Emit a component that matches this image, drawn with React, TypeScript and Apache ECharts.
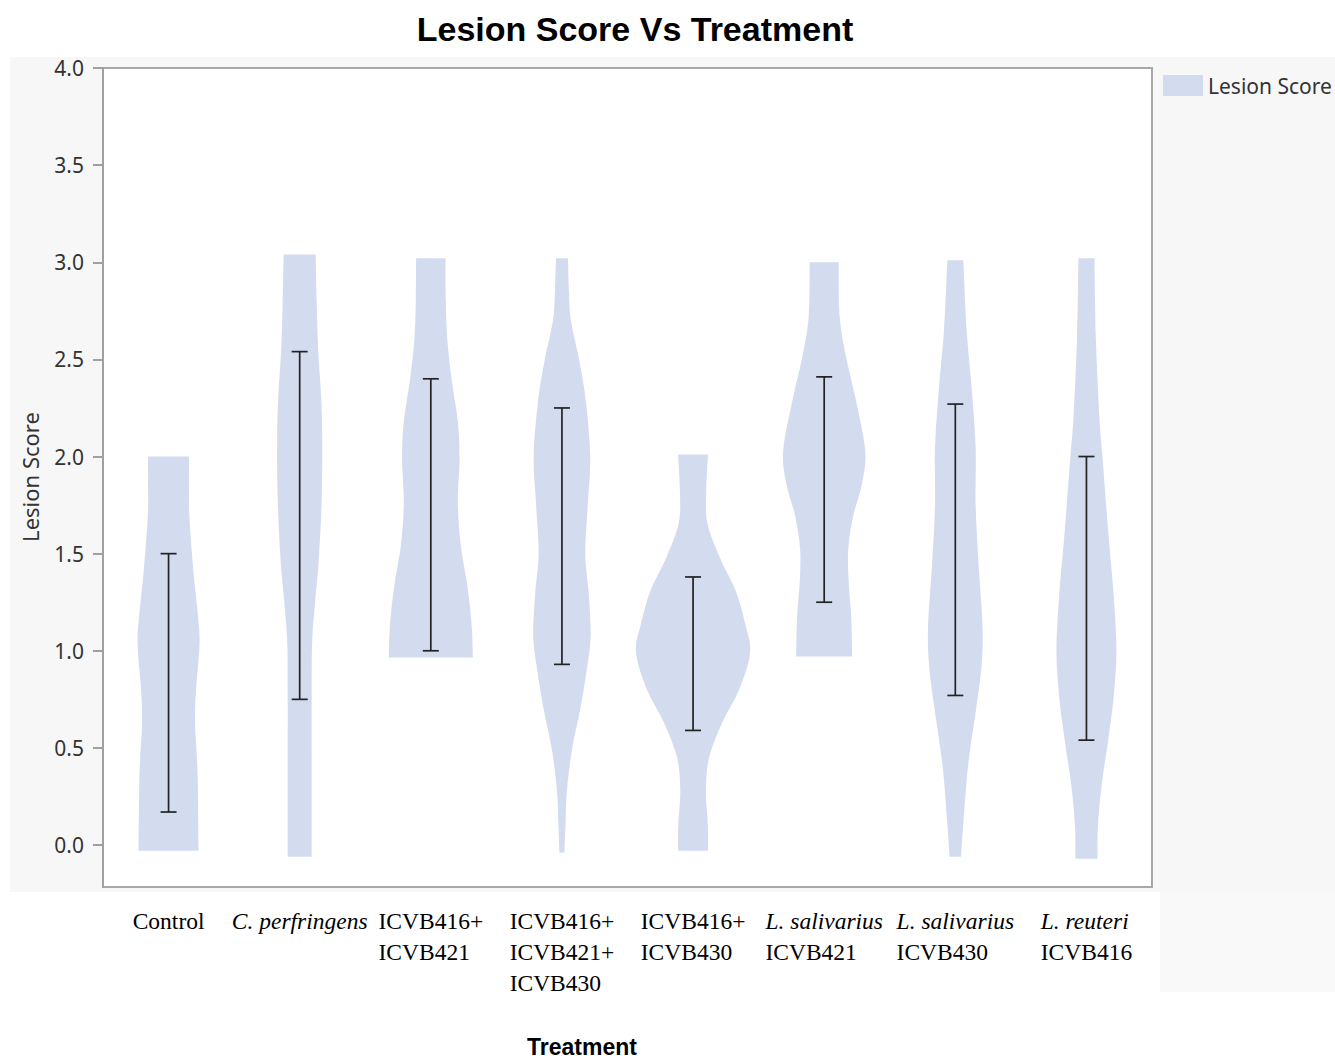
import React, { useEffect, useRef } from "react";
import * as echarts from "echarts";

// ---------------- data ----------------
const categories = [
  "Control",
  "C. perfringens",
  "ICVB416+ ICVB421",
  "ICVB416+ ICVB421+ ICVB430",
  "ICVB416+ ICVB430",
  "L. salivarius ICVB421",
  "L. salivarius ICVB430",
  "L. reuteri ICVB416",
];

const tickLabelLines: string[][] = [
  ["Control"],
  ["C. perfringens"],
  ["ICVB416+", "ICVB421"],
  ["ICVB416+", "ICVB421+", "ICVB430"],
  ["ICVB416+", "ICVB430"],
  ["L. salivarius", "ICVB421"],
  ["L. salivarius", "ICVB430"],
  ["L. reuteri", "ICVB416"],
];

const italicLines: boolean[][] = [
  [false],
  [true],
  [false, false],
  [false, false, false],
  [false, false],
  [true, false],
  [true, false],
  [true, false],
];

const yTicks = [0, 0.5, 1.0, 1.5, 2.0, 2.5, 3.0, 3.5, 4.0];

// error bars (low / high)
const errLow = [0.17, 0.75, 1.0, 0.93, 0.59, 1.25, 0.77, 0.54];
const errHigh = [1.5, 2.54, 2.4, 2.25, 1.38, 2.41, 2.27, 2.0];

// violin density profiles: [score, half-width (density, in reference px at band width 131)]
const violinControl = [[2.0, 20.5], [1.85, 20.5], [1.69, 20.8], [1.4, 25], [1.2, 29], [1.04, 31], [0.8, 27.5], [0.63, 26.5], [0.37, 29], [-0.03, 30]];
const violinCPerf = [[3.04, 16], [2.8, 17], [2.55, 18.5], [2.3, 21.5], [2.09, 22.5], [1.78, 22], [1.46, 19], [1.26, 15.5], [1.05, 12.5], [0.8, 12], [0.4, 12], [-0.06, 12]];
const violin416_421 = [[3.02, 14.7], [2.8, 15], [2.6, 16.5], [2.39, 21], [2.18, 27], [1.99, 28.7], [1.76, 27], [1.54, 30], [1.33, 36.7], [1.12, 41], [0.965, 42]];
const violinTriple = [[3.02, 6], [2.85, 7], [2.7, 9], [2.49, 17.5], [2.28, 24], [2.0, 28.3], [1.75, 25.8], [1.5, 23.3], [1.3, 26.7], [1.08, 28.7], [0.91, 25], [0.7, 18.3], [0.49, 10], [0.28, 5], [0.1, 3.5], [-0.04, 2.5]];
const violin416_430 = [[2.01, 15], [1.83, 13.2], [1.66, 14.2], [1.48, 26.7], [1.31, 42.5], [1.14, 52], [0.99, 57], [0.8, 46], [0.63, 29], [0.45, 16], [0.28, 12.8], [0.11, 14.7], [-0.03, 15]];
const violinLSal421 = [[3.0, 14.5], [2.72, 15.5], [2.51, 22], [2.29, 31.7], [2.03, 41], [1.86, 37.8], [1.69, 28.8], [1.52, 24], [1.35, 24.5], [1.18, 27], [0.97, 28]];
const violinLSal430 = [[3.01, 8], [2.66, 11.2], [2.36, 16.2], [2.05, 20.3], [1.75, 20.3], [1.44, 23.3], [1.13, 27.2], [0.93, 26.3], [0.72, 21.3], [0.41, 12.8], [0.11, 8], [-0.06, 5.7]];
const violinLReuteri = [[3.02, 8], [2.6, 9.5], [2.2, 13], [2.0, 16], [1.6, 22], [1.3, 27], [1.0, 30], [0.75, 27], [0.55, 22], [0.3, 15], [0.1, 11.5], [-0.07, 11]];

const violins = [
  violinControl,
  violinCPerf,
  violin416_421,
  violinTriple,
  violin416_430,
  violinLSal421,
  violinLSal430,
  violinLReuteri,
];

const REF_BAND = 131;
const VIOLIN_COLOR = "#d3dcef";

function catmull(pts: number[][]): string {
  let d = "";
  const n = pts.length;
  for (let i = 0; i < n - 1; i++) {
    const p0 = pts[i - 1] || pts[i];
    const p1 = pts[i];
    const p2 = pts[i + 1];
    const p3 = pts[i + 2] || pts[i + 1];
    const c1x = p1[0] + (p2[0] - p0[0]) / 6;
    const c1y = p1[1] + (p2[1] - p0[1]) / 6;
    const c2x = p2[0] - (p3[0] - p1[0]) / 6;
    const c2y = p2[1] - (p3[1] - p1[1]) / 6;
    d += ` C ${c1x} ${c1y} ${c2x} ${c2y} ${p2[0]} ${p2[1]}`;
  }
  return d;
}

export default function App() {
  const ref = useRef<HTMLDivElement>(null);

  useEffect(() => {
    if (!ref.current) return;
    const chart = echarts.init(ref.current, null, { renderer: "svg" });

    const axisFont = "Liberation Serif";

    const option: any = {
      animation: false,
      backgroundColor: "#ffffff",
      graphic: [
        {
          type: "rect",
          z: -10,
          silent: true,
          shape: { x: 10, y: 57, width: 1325, height: 835 },
          style: { fill: "#f7f7f7" },
        },
        {
          type: "rect",
          z: -10,
          silent: true,
          shape: { x: 1160, y: 892, width: 175, height: 100 },
          style: { fill: "#f9f9f9" },
        },
        {
          type: "text",
          x: 635,
          y: 29,
          style: {
            text: "Lesion Score Vs Treatment",
            font: "bold 34px 'Liberation Sans', Arial, sans-serif",
            fill: "#000",
            textAlign: "center",
            textVerticalAlign: "middle",
          },
        },
        {
          type: "text",
          x: 30,
          y: 477,
          rotation: Math.PI / 2,
          style: {
            text: "Lesion Score",
            font: "22px 'Noto Sans', sans-serif",
            fill: "#333",
            textAlign: "center",
            textVerticalAlign: "middle",
          },
        },
        {
          type: "text",
          x: 582,
          y: 1047,
          style: {
            text: "Treatment",
            font: "bold 23px 'Liberation Sans', Arial, sans-serif",
            fill: "#000",
            textAlign: "center",
            textVerticalAlign: "middle",
          },
        },
      ],
      legend: {
        data: [{ name: "Lesion Score", icon: "rect" }],
        left: 1158,
        top: 70,
        itemWidth: 40,
        itemHeight: 21,
        textStyle: {
          fontFamily: "Noto Sans",
          fontSize: 21,
          color: "#333",
        },
      },
      grid: {
        left: 103,
        right: 183,
        top: 68,
        bottom: 174,
        show: true,
        backgroundColor: "#ffffff",
        borderColor: "#a8a8a8",
        borderWidth: 2,
      },
      xAxis: {
        type: "category",
        data: categories,
        axisLine: { show: false },
        axisTick: { show: false },
        splitLine: { show: false },
        axisLabel: {
          interval: 0,
          margin: 18,
          formatter: (_v: string, idx: number) =>
            tickLabelLines[idx]
              .map((l, j) => `{${italicLines[idx][j] ? "i" : "n"}|${l}}`)
              .join("\n"),
          rich: {
            n: {
              fontFamily: axisFont,
              fontSize: 23.5,
              lineHeight: 31,
              color: "#000",
              align: "left",
            },
            i: {
              fontFamily: axisFont,
              fontStyle: "italic",
              fontSize: 23.5,
              lineHeight: 31,
              color: "#000",
              align: "left",
            },
          },
        },
      },
      yAxis: {
        type: "value",
        min: -0.216,
        max: 4.0,
        splitLine: { show: false },
        axisLine: { show: true, lineStyle: { color: "#a0a0a0", width: 2 } },
        axisTick: {
          show: true,
          length: 10,
          customValues: yTicks,
          lineStyle: { color: "#a0a0a0", width: 2 },
        },
        axisLabel: {
          customValues: yTicks,
          margin: 19,
          formatter: (v: number) => v.toFixed(1),
          fontFamily: "Noto Sans",
          fontSize: 21,
          color: "#333",
        },
      },
      series: [
        {
          name: "Lesion Score",
          type: "custom",
          itemStyle: { color: VIOLIN_COLOR },
          data: categories.map((_c, i) => [i]),
          renderItem: (_params: any, api: any) => {
            const idx = api.value(0);
            const prof = violins[idx];
            const band = api.size([1, 0])[0];
            const k = band / REF_BAND;
            const left = prof.map(([v, hw]) => {
              const p = api.coord([idx, v]);
              return [p[0] - hw * k, p[1]];
            });
            const right = prof.map(([v, hw]) => {
              const p = api.coord([idx, v]);
              return [p[0] + hw * k, p[1]];
            });
            const rightRev = right.slice().reverse();
            let d = `M ${right[0][0]} ${right[0][1]} L ${left[0][0]} ${left[0][1]}`;
            d += catmull(left);
            d += ` L ${rightRev[0][0]} ${rightRev[0][1]}`;
            d += catmull(rightRev);
            d += " Z";
            return {
              type: "path",
              shape: { pathData: d },
              style: { fill: VIOLIN_COLOR, stroke: null },
            };
          },
        },
        {
          name: "Error",
          type: "custom",
          z: 5,
          data: categories.map((_c, i) => [i, errLow[i], errHigh[i]]),
          renderItem: (_params: any, api: any) => {
            const idx = api.value(0);
            const lo = api.coord([idx, api.value(1)]);
            const hi = api.coord([idx, api.value(2)]);
            const cap = 8;
            const style = { stroke: "#222", lineWidth: 1.7 };
            return {
              type: "group",
              children: [
                { type: "line", shape: { x1: lo[0], y1: lo[1], x2: hi[0], y2: hi[1] }, style },
                { type: "line", shape: { x1: hi[0] - cap, y1: hi[1], x2: hi[0] + cap, y2: hi[1] }, style },
                { type: "line", shape: { x1: lo[0] - cap, y1: lo[1], x2: lo[0] + cap, y2: lo[1] }, style },
              ],
            };
          },
        },
      ],
    };

    chart.setOption(option);
    return () => {
      chart.dispose();
    };
  }, []);

  return (
    <div
      ref={ref}
      style={{ position: "absolute", left: 0, top: 0, width: 1335, height: 1061 }}
    />
  );
}
